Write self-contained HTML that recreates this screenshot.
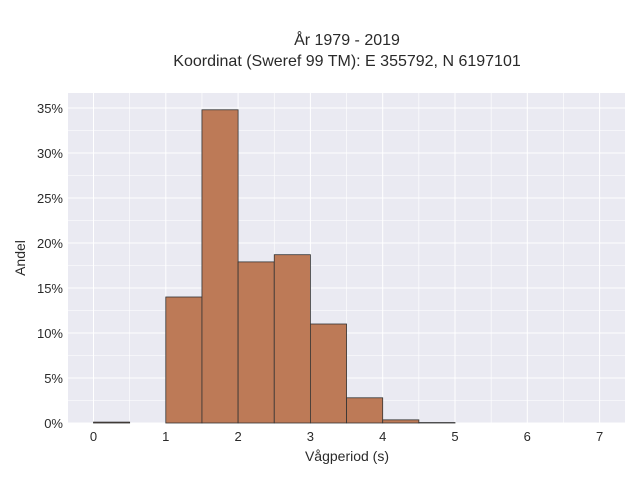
<!DOCTYPE html>
<html><head><meta charset="utf-8"><style>
body{margin:0;background:#fff;font-family:"Liberation Sans",sans-serif;}
</style></head><body>
<svg width="640" height="480" xmlns="http://www.w3.org/2000/svg">
<text x="347" y="45" text-anchor="middle" font-size="16" fill="#2a2a2a">År 1979 - 2019</text>
<text x="347" y="66" text-anchor="middle" font-size="16" fill="#2a2a2a">Koordinat (Sweref 99 TM): E 355792, N 6197101</text>
<rect x="68" y="93" width="557" height="330" fill="#eaeaf2"/>
<g id="grid"></g>
<g id="bars"></g>
<g id="ticks"></g>
<text x="347" y="461" text-anchor="middle" font-size="14" fill="#2a2a2a">Vågperiod (s)</text>
<text transform="translate(25,258) rotate(-90)" text-anchor="middle" font-size="14" fill="#2a2a2a">Andel</text>
</svg>
<script>
const binStarts=[0,0.5,1,1.5,2,2.5,3,3.5,4,4.5,5,5.5,6,6.5];
const shares=[0.1,0,14.0,34.8,17.9,18.7,11.0,2.8,0.35,0.05,0,0,0,0];
const xTicks=[0,1,2,3,4,5,6,7];
const yTicks=[0,5,10,15,20,25,30,35];
const binWidth=0.5;
const NS="http://www.w3.org/2000/svg";
const X=v=>93.5+v*72.3, Y=v=>423-v*9;
const grid=document.getElementById('grid'),bars=document.getElementById('bars'),ticks=document.getElementById('ticks');
function mk(tag,a,p){const e=document.createElementNS(NS,tag);for(const k in a)e.setAttribute(k,a[k]);p.appendChild(e);return e;}
for(let v=0;v<=7;v+=0.5){const l=mk('line',{x1:X(v),x2:X(v),y1:93,y2:423,stroke:'#fff','stroke-width':v%1?0.6:1},grid);

}
for(let v=0;v<=37.5;v+=2.5){const y=Y(v);if(y<93)continue;const l=mk('line',{x1:68,x2:625,y1:y,y2:y,stroke:'#fff','stroke-width':v%5?0.6:1},grid);

}
binStarts.forEach((b,i)=>{if(shares[i]<=0)return;const r=mk('rect',{x:X(b),y:Y(shares[i]),width:X(b+binWidth)-X(b),height:423-Y(shares[i]),fill:'#bd7a57',stroke:'#333','stroke-width':0.8},bars);

});
xTicks.forEach(t=>{const e=mk('text',{x:X(t),y:441,'text-anchor':'middle','font-size':13,fill:'#2a2a2a'},ticks);e.textContent=t;

});
yTicks.forEach(t=>{const e=mk('text',{x:63,y:Y(t)+5,'text-anchor':'end','font-size':13,fill:'#2a2a2a'},ticks);e.textContent=t+'%';

});
</script>
</body></html>
